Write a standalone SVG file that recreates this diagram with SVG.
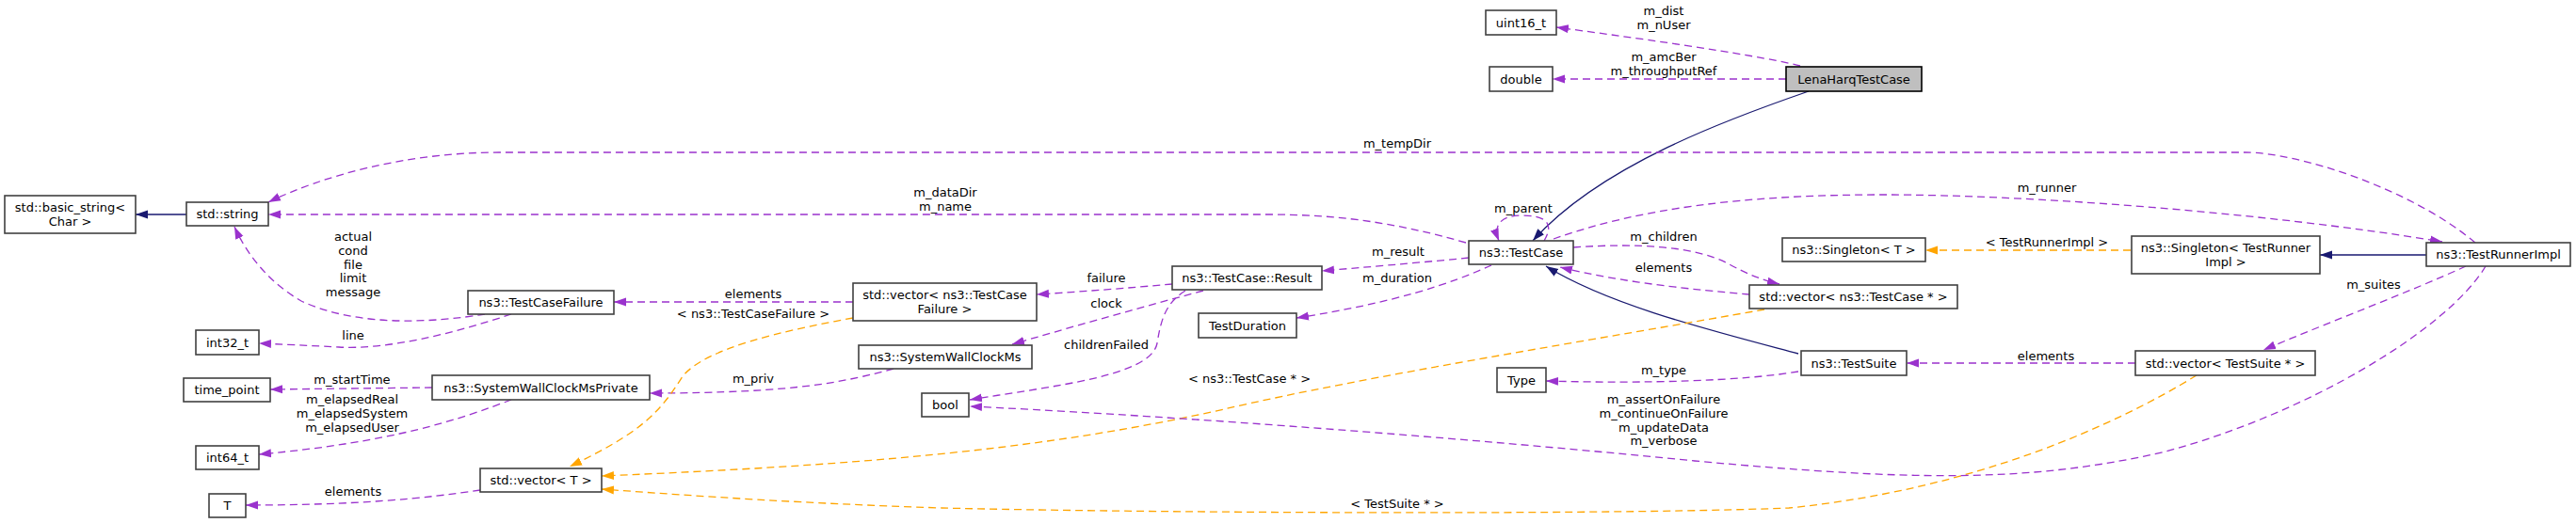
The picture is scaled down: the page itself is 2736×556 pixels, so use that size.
<svg xmlns="http://www.w3.org/2000/svg" width="2736" height="556" viewBox="0 0 2736 556">
<style>
.n rect{fill:#fff;stroke:#404040;stroke-width:1.6}
.n text,.lb text{font-family:"DejaVu Sans",sans-serif;font-size:13px;text-anchor:middle;fill:#000}
.p{fill:none;stroke:#9a32cd;stroke-width:1.3;stroke-dasharray:8,5;marker-end:url(#ap)}
.o{fill:none;stroke:#ffa500;stroke-width:1.3;stroke-dasharray:8,5;marker-end:url(#ao)}
.b{fill:none;stroke:#191970;stroke-width:1.3;marker-end:url(#ab)}
</style>
<defs>
<marker id="ap" markerUnits="userSpaceOnUse" markerWidth="14" markerHeight="10" refX="13" refY="5" orient="auto"><path d="M0,0.5 L13,5 L0,9.5 z" fill="#9a32cd"/></marker>
<marker id="ao" markerUnits="userSpaceOnUse" markerWidth="14" markerHeight="10" refX="13" refY="5" orient="auto"><path d="M0,0.5 L13,5 L0,9.5 z" fill="#ffa500"/></marker>
<marker id="ab" markerUnits="userSpaceOnUse" markerWidth="14" markerHeight="10" refX="13" refY="5" orient="auto"><path d="M0,0.5 L13,5 L0,9.5 z" fill="#191970"/></marker>
</defs>
<rect width="2736" height="556" fill="#fff"/>
<g id="edges">
<path class="p" d="M1912,70 C1860,57 1720,38 1653,29"/>
<path class="p" d="M1897,84 L1649,84"/>
<path class="b" d="M1921,97 C1840,125 1700,175 1628,256"/>
<path class="p" d="M1557,258 C1480,236 1420,228 1346,228 L285,228"/>
<path class="p" d="M2629,258 C2560,200 2440,162 2385,162 L530,162 C430,162 340,188 285,215"/>
<path class="p" d="M1640,256 C1652,236 1640,229 1616,229 C1596,229 1585,238 1592,256"/>
<path class="p" d="M1650,254 C1740,222 1850,207 2000,207 C2150,207 2400,225 2594,257"/>
<path class="p" d="M1671,263 C1740,258 1800,262 1835,280 C1855,291 1872,298 1890,302"/>
<path class="p" d="M1858,313 C1800,308 1720,300 1657,284"/>
<path class="b" d="M1910,376 C1820,352 1710,325 1642,283"/>
<path class="p" d="M1560,274 C1500,280 1450,284 1404,288"/>
<path class="p" d="M1584,282 C1540,302 1480,322 1377,338"/>
<path class="p" d="M1245,302 C1200,306 1150,310 1101,313"/>
<path class="p" d="M1278,309 C1200,330 1130,350 1075,366"/>
<path class="p" d="M1259,309 C1238,322 1233,340 1229,365 C1222,400 1120,410 1030,425"/>
<path class="p" d="M906,321 L652,321"/>
<path class="p" d="M515,334 C460,343 380,348 320,320 C285,300 262,270 249,241"/>
<path class="p" d="M543,334 C480,355 410,372 360,369 C320,367 300,366 275,365"/>
<path class="p" d="M459,412 L287,414"/>
<path class="p" d="M543,425 C490,445 420,470 275,483"/>
<path class="p" d="M949,392 C900,405 850,418 690,418"/>
<path class="p" d="M510,521 C450,530 380,537 261,537"/>
<path class="o" d="M906,338 C830,352 750,370 725,400 C700,440 680,460 605,496"/>
<path class="o" d="M1874,329 C1700,360 1450,400 1300,435 C1100,480 900,495 639,506"/>
<path class="o" d="M2333,399 C2250,450 2100,520 1900,540 C1700,548 1200,545 1000,540 C850,535 750,528 639,520"/>
<path class="o" d="M2263,266 L2045,266"/>
<path class="b" d="M2577,271 L2464,271"/>
<path class="p" d="M2619,283 C2560,310 2480,340 2404,372"/>
<path class="p" d="M2268,386 L2025,386"/>
<path class="p" d="M1910,395 C1850,405 1750,408 1642,405"/>
<path class="p" d="M2640,283 C2600,350 2450,440 2300,480 C2150,515 2020,510 1800,490 C1500,460 1200,440 1030,432"/>
<path class="b" d="M198,228 L144,228"/>
</g>
<g class="lb" id="labels">
<text x="1767" y="16">m_dist</text><text x="1767" y="31">m_nUser</text>
<text x="1767" y="65">m_amcBer</text><text x="1767" y="80">m_throughputRef</text>
<text x="1484" y="157">m_tempDir</text>
<text x="1004" y="209">m_dataDir</text><text x="1004" y="224">m_name</text>
<text x="2174" y="204">m_runner</text>
<text x="1618" y="226">m_parent</text>
<text x="1767" y="256">m_children</text>
<text x="1767" y="289">elements</text>
<text x="1485" y="272">m_result</text>
<text x="1484" y="300">m_duration</text>
<text x="1175" y="300">failure</text>
<text x="1175" y="327">clock</text>
<text x="1175" y="371">childrenFailed</text>
<text x="1327" y="407">&lt; ns3::TestCase * &gt;</text>
<text x="2174" y="262">&lt; TestRunnerImpl &gt;</text>
<text x="2521" y="307">m_suites</text>
<text x="2173" y="383">elements</text>
<text x="1767" y="398">m_type</text>
<text x="1767" y="429">m_assertOnFailure</text><text x="1767" y="444">m_continueOnFailure</text><text x="1767" y="459">m_updateData</text><text x="1767" y="473">m_verbose</text>
<text x="1484" y="540">&lt; TestSuite * &gt;</text>
<text x="375" y="256">actual</text><text x="375" y="271">cond</text><text x="375" y="286">file</text><text x="375" y="300">limit</text><text x="375" y="315">message</text>
<text x="375" y="361">line</text>
<text x="374" y="408">m_startTime</text>
<text x="374" y="429">m_elapsedReal</text><text x="374" y="444">m_elapsedSystem</text><text x="374" y="459">m_elapsedUser</text>
<text x="375" y="527">elements</text>
<text x="800" y="317">elements</text>
<text x="800" y="338">&lt; ns3::TestCaseFailure &gt;</text>
<text x="800" y="407">m_priv</text>
</g>
<g class="n" id="n_lena"><rect x="1897" y="71" width="144" height="26" style="fill:#bfbfbf;stroke:#000"/><text x="1969" y="88.5">LenaHarqTestCase</text></g>
<g class="n" id="n_uint16"><rect x="1578" y="11" width="75" height="26"/><text x="1615.5" y="28.5">uint16_t</text></g>
<g class="n" id="n_double"><rect x="1582" y="71" width="67" height="26"/><text x="1615.5" y="88.5">double</text></g>
<g class="n" id="n_testcase"><rect x="1560" y="256" width="111" height="25"/><text x="1615.5" y="273">ns3::TestCase</text></g>
<g class="n" id="n_string"><rect x="198" y="215" width="87" height="25"/><text x="241.5" y="232">std::string</text></g>
<g class="n" id="n_basic"><rect x="5" y="208" width="139" height="40"/><text x="74.5" y="225">std::basic_string&lt;</text><text x="74.5" y="240">Char &gt;</text></g>
<g class="n" id="n_runnerimpl"><rect x="2577" y="258" width="153" height="25"/><text x="2653.5" y="275">ns3::TestRunnerImpl</text></g>
<g class="n" id="n_singleton_tri"><rect x="2264" y="251" width="200" height="40"/><text x="2364" y="268">ns3::Singleton&lt; TestRunner</text><text x="2364" y="283">Impl &gt;</text></g>
<g class="n" id="n_singleton_t"><rect x="1893" y="253" width="152" height="25"/><text x="1969" y="270">ns3::Singleton&lt; T &gt;</text></g>
<g class="n" id="n_vec_tc"><rect x="1858" y="303" width="221" height="25"/><text x="1968.5" y="320">std::vector&lt; ns3::TestCase * &gt;</text></g>
<g class="n" id="n_testsuite"><rect x="1913" y="373" width="112" height="26"/><text x="1969" y="390.5">ns3::TestSuite</text></g>
<g class="n" id="n_type"><rect x="1590" y="391" width="52" height="26"/><text x="1616" y="408.5">Type</text></g>
<g class="n" id="n_vec_ts"><rect x="2268" y="373" width="191" height="26"/><text x="2363.5" y="390.5">std::vector&lt; TestSuite * &gt;</text></g>
<g class="n" id="n_result"><rect x="1245" y="283" width="159" height="25"/><text x="1324.5" y="300">ns3::TestCase::Result</text></g>
<g class="n" id="n_duration"><rect x="1273" y="333" width="104" height="26"/><text x="1325" y="350.5">TestDuration</text></g>
<g class="n" id="n_vec_tcf"><rect x="906" y="301" width="195" height="40"/><text x="1003.5" y="318">std::vector&lt; ns3::TestCase</text><text x="1003.5" y="333">Failure &gt;</text></g>
<g class="n" id="n_swcm"><rect x="912" y="367" width="184" height="25"/><text x="1004" y="384">ns3::SystemWallClockMs</text></g>
<g class="n" id="n_bool"><rect x="979" y="418" width="50" height="25"/><text x="1004" y="435">bool</text></g>
<g class="n" id="n_tcf"><rect x="497" y="309" width="155" height="25"/><text x="574.5" y="326">ns3::TestCaseFailure</text></g>
<g class="n" id="n_swcmp"><rect x="459" y="399" width="231" height="26"/><text x="574.5" y="416.5">ns3::SystemWallClockMsPrivate</text></g>
<g class="n" id="n_vec_t"><rect x="510" y="498" width="129" height="25"/><text x="574.5" y="515">std::vector&lt; T &gt;</text></g>
<g class="n" id="n_int32"><rect x="208" y="351" width="67" height="26"/><text x="241.5" y="368.5">int32_t</text></g>
<g class="n" id="n_timepoint"><rect x="195" y="402" width="92" height="25"/><text x="241" y="419">time_point</text></g>
<g class="n" id="n_int64"><rect x="208" y="474" width="67" height="25"/><text x="241.5" y="491">int64_t</text></g>
<g class="n" id="n_T"><rect x="222" y="525" width="39" height="25"/><text x="241.5" y="542">T</text></g>
</svg>
